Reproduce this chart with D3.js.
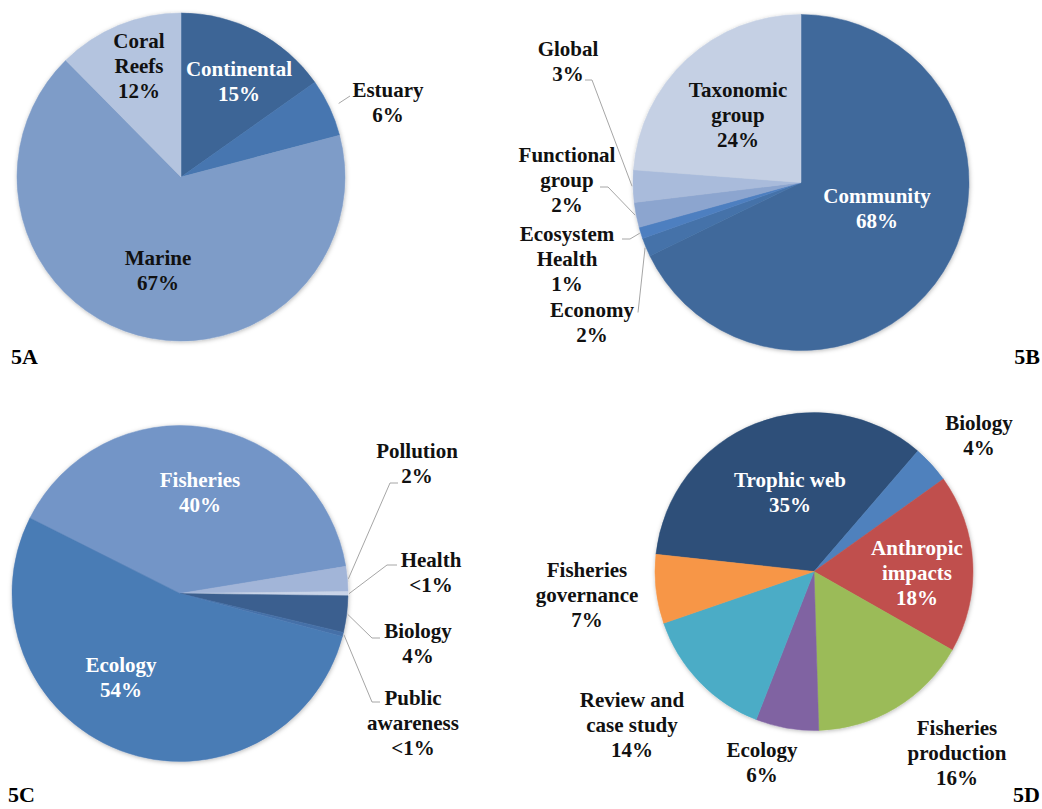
<!DOCTYPE html>
<html>
<head>
<meta charset="utf-8">
<script src="https://cdn.jsdelivr.net/npm/d3@7/dist/d3.min.js"></script>
<style>
  html, body { margin: 0; padding: 0; background: #fff; }
  svg { display: block; }
</style>
</head>
<body>
<svg id="chart" width="1042" height="809"></svg>
<script>
// ---------- DATA ----------
// 5A
const aCategories = ["Continental", "Estuary", "Marine", "Coral Reefs"];
const aValues     = [15.2, 5.7, 66.7, 12.4];
const aText       = ["15%", "6%", "67%", "12%"];
// 5B
const bCategories = ["Community", "Economy", "Ecosystem Health", "Functional group", "Global", "Taxonomic group"];
const bValues     = [67.8, 1.8, 1.1, 2.4, 3.1, 23.8];
const bText       = ["68%", "2%", "1%", "2%", "3%", "24%"];
// 5C
const cCategories = ["Fisheries", "Pollution", "Health", "Biology", "Public awareness", "Ecology"];
const cValues     = [40.0, 2.4, 0.4, 3.5, 0.4, 53.3];
const cText       = ["40%", "2%", "<1%", "4%", "<1%", "54%"];
// 5D
const dCategories = ["Trophic web", "Biology", "Anthropic impacts", "Fisheries production", "Ecology", "Review and case study", "Fisheries governance"];
const dValues     = [34.6, 3.8, 18.1, 16.3, 6.4, 13.8, 7.0];
const dText       = ["35%", "4%", "18%", "16%", "6%", "14%", "7%"];

const panelTags = ["5A", "5B", "5C", "5D"];

// ---------- LAYOUT / STYLE ----------
const FONT = '"Liberation Serif"';
const deg = Math.PI / 180;
const panels = [
  {
    tag: panelTags[0], cats: aCategories, vals: aValues, pct: aText,
    cx: 181, cy: 177, r: 164, start: 0,
    colors: ["#3d6596", "#4676b0", "#7e9cc8", "#b4c4df"],
    lines: [["Continental"], ["Estuary"], ["Marine"], ["Coral", "Reefs"]],
    white: [true, false, false, false],
    pos: [[58, -101], [207, -80], [-23, 88], [-42, -129]],
    leaders: [null, {pts: [[169, -81]], rOff: 10}, null, null],
    tagPos: [11, 364], tagAnchor: "start"
  },
  {
    tag: panelTags[1], cats: bCategories, vals: bValues, pct: bText,
    cx: 801, cy: 182.5, r: 168, start: 0,
    colors: ["#41699b", "#4472a9", "#4e7fc0", "#8ca5cf", "#a9bbdb", "#c5d0e4"],
    lines: [["Community"], ["Economy"], ["Ecosystem", "Health"], ["Functional", "group"], ["Global"], ["Taxonomic", "group"]],
    white: [true, false, false, false, false, false],
    pos: [[76, 20.5], [-209, 134.5], [-234, 58.5], [-234, -20.5], [-233, -126.5], [-63, -85.5]],
    leaders: [null,
      {pts: [[-163, 130]], rOff: 1},
      {pts: [[-179, 56.5], [-171, 56.5]], rOff: 1},
      {pts: [[-201, 4.5], [-193, 4.5]], rOff: 1},
      {pts: [[-216, -102.5], [-209, -102.5]], rOff: 1},
      null],
    tagPos: [1040, 364], tagAnchor: "end"
  },
  {
    tag: panelTags[2], cats: cCategories, vals: cValues, pct: cText,
    cx: 180, cy: 593.5, r: 168, start: -63.3 * deg,
    colors: ["#7395c7", "#a2b5d8", "#c9d4e8", "#3b5f8f", "#4570a8", "#4a7bb5"],
    lines: [["Fisheries"], ["Pollution"], ["Health"], ["Biology"], ["Public", "awareness"], ["Ecology"]],
    white: [true, false, false, false, false, true],
    pos: [[20, -106.5], [237, -135.5], [251, -26.5], [238, 44.5], [233, 111.5], [-59, 78.5]],
    leaders: [null,
      {pts: [[218, -110.5], [210, -110.5]], rOff: 1},
      {pts: [[217, -28.5], [207, -28.5]], rOff: 1},
      {pts: [[200, 44.5], [192, 44.5]], rOff: 1},
      {pts: [[200, 108.5], [192, 108.5]], rOff: 1},
      null],
    tagPos: [8, 802], tagAnchor: "start"
  },
  {
    tag: panelTags[3], cats: dCategories, vals: dValues, pct: dText,
    cx: 814, cy: 571.5, r: 159, start: -83.8 * deg,
    colors: ["#2d4f79", "#4f81bd", "#c0504d", "#9bbb59", "#8064a2", "#4bacc6", "#f79646"],
    lines: [["Trophic web"], ["Biology"], ["Anthropic", "impacts"], ["Fisheries", "production"], ["Ecology"], ["Review and", "case study"], ["Fisheries", "governance"]],
    white: [true, false, true, false, false, false, false],
    pos: [[-24, -84.5], [165, -141.5], [103, -16.5], [143, 163.5], [-52, 185.5], [-182, 135.5], [-227, 5.5]],
    leaders: [null, null, null, null, null, null, null],
    tagPos: [1040, 802], tagAnchor: "end"
  }
];

const lineH = 25;
const fontSize = 21;

const svg = d3.select("#chart");

const defs = svg.append("defs");
const f = defs.append("filter").attr("id", "shadow")
  .attr("x", "-10%").attr("y", "-10%").attr("width", "120%").attr("height", "120%");
f.append("feDropShadow").attr("dx", 0.5).attr("dy", 1).attr("stdDeviation", 2)
  .attr("flood-color", "#000").attr("flood-opacity", 0.28);

panels.forEach(p => {
  const g = svg.append("g").attr("transform", `translate(${p.cx},${p.cy})`);
  const pie = d3.pie().sort(null).value(d => d)
    .startAngle(p.start).endAngle(p.start + 2 * Math.PI);
  const arcs = pie(p.vals);
  const arc = d3.arc().innerRadius(0).outerRadius(p.r);
  const color = d3.scaleOrdinal().domain(p.cats).range(p.colors);

  g.append("g").attr("filter", "url(#shadow)")
    .selectAll("path").data(arcs).enter().append("path")
    .attr("d", arc)
    .attr("fill", (d, i) => color(p.cats[i]))
    .attr("stroke", (d, i) => color(p.cats[i]))
    .attr("stroke-width", 0.5);

  // leader lines
  arcs.forEach((d, i) => {
    const L = p.leaders[i];
    if (!L) return;
    const mid = (d.startAngle + d.endAngle) / 2;
    const er = p.r + L.rOff;
    const edge = [er * Math.sin(mid), -er * Math.cos(mid)];
    const pts = L.pts.concat([edge]);
    g.append("path")
      .attr("d", d3.line()(pts))
      .attr("fill", "none")
      .attr("stroke", "#a6a6a6")
      .attr("stroke-width", 1);
  });

  // labels
  arcs.forEach((d, i) => {
    const lines = p.lines[i].concat([p.pct[i]]);
    const t = g.append("text")
      .attr("text-anchor", "middle")
      .attr("font-family", FONT)
      .attr("font-weight", "bold")
      .attr("font-size", fontSize)
      .attr("fill", p.white[i] ? "#ffffff" : "#111111");
    lines.forEach((ln, k) => {
      t.append("tspan")
        .attr("x", p.pos[i][0])
        .attr("y", p.pos[i][1] + k * lineH)
        .text(ln);
    });
  });

  svg.append("text")
    .attr("x", p.tagPos[0]).attr("y", p.tagPos[1])
    .attr("text-anchor", p.tagAnchor)
    .attr("font-family", FONT)
    .attr("font-weight", "bold")
    .attr("font-size", 22)
    .attr("fill", "#000")
    .text(p.tag);
});
</script>
</body>
</html>
